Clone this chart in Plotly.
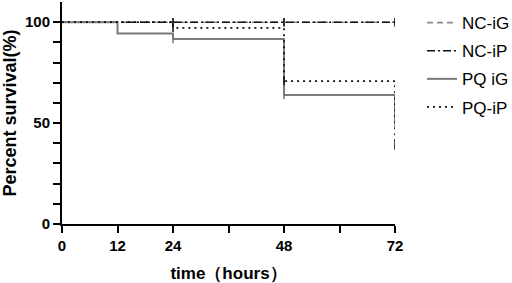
import plotly.graph_objects as go

# Data (Kaplan-Meier step values)
time_pts = [0, 12, 24, 48, 72]
nc_ig = [100, 100, 100, 100, 100]
nc_ip = [100, 100, 100, 100, 100]
pq_ig = [100, 94.4, 91.7, 63.9, 50]
pq_ip = [100, 100, 97.2, 70.8, 38.9]
censor_times = [24, 48, 72]
x_tick_vals = [0, 12, 24, 36, 48, 60, 72]
x_tick_text = ["0", "12", "24", "", "48", "", "72"]
y_tick_vals = [0, 10, 20, 30, 40, 50, 60, 70, 80, 90, 100]
y_tick_text = ["0", "", "", "", "", "50", "", "", "", "", "100"]

series = [
    ("NC-iG", nc_ig, dict(color="#8a8a8a", width=1.6, dash="6px,4px")),
    ("NC-iP", nc_ip, dict(color="#111111", width=1.6, dash="8px,3px,2px,3px")),
    ("PQ iG", pq_ig, dict(color="#7a7a7a", width=2)),
    ("PQ-iP", pq_ip, dict(color="#111111", width=1.8, dash="2px,4px")),
]

fig = go.Figure()
for name, vals, line in series:
    fig.add_trace(go.Scatter(
        x=time_pts, y=vals, mode="lines", line=dict(shape="hv", **line),
        name=name, showlegend=True, legendgroup=name))
    cy = [vals[time_pts.index(t)] for t in censor_times]
    fig.add_trace(go.Scatter(
        x=censor_times, y=cy, mode="markers", showlegend=False,
        legendgroup=name,
        marker=dict(symbol="line-ns", size=6,
                    line=dict(width=1.5, color=line["color"])),
        hoverinfo="skip"))

fam = "Arial, Liberation Sans"
tickfont = dict(size=15, family=fam, color="black", weight="bold")
fig.update_layout(
    width=512, height=283,
    margin=dict(l=62, r=117, t=2, b=59, autoexpand=False),
    plot_bgcolor="white", paper_bgcolor="white",
    font=dict(family=fam, color="black"),
    legend=dict(x=1.081, y=0.986, xanchor="left", yanchor="top",
                font=dict(size=17, family=fam),
                tracegroupgap=3, itemwidth=30, bgcolor="rgba(0,0,0,0)"),
    xaxis=dict(range=[0, 72], tickvals=x_tick_vals, ticktext=x_tick_text,
               ticks="outside", ticklen=7, tickwidth=2, tickcolor="black",
               showline=True, linewidth=2, linecolor="black",
               showgrid=False, zeroline=False, automargin=False,
               tickfont=tickfont,
               title=dict(text="time（hours）",
                          font=dict(size=17, family=fam, weight="bold"), standoff=14)),
    yaxis=dict(range=[0, 110], tickvals=y_tick_vals, ticktext=y_tick_text,
               ticks="outside", ticklen=7, tickwidth=2, tickcolor="black",
               showline=True, linewidth=2, linecolor="black",
               showgrid=False, zeroline=False, automargin=False,
               tickfont=tickfont,
               title=dict(text="Percent survival(%)",
                          font=dict(size=18, family=fam, weight="bold"), standoff=6)),
)
fig.write_html("out.html", config={"displayModeBar": False},
               post_script="document.body.style.margin='0';")
